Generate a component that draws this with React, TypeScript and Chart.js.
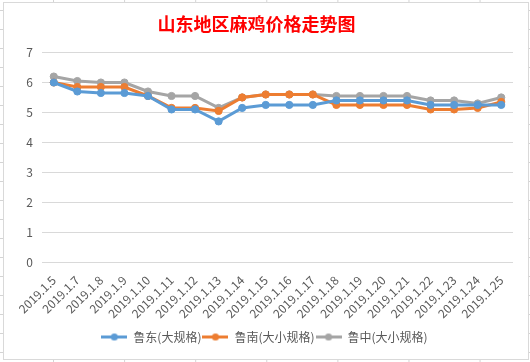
import React, { useEffect, useRef } from "react";
import { Chart, registerables } from "chart.js";

Chart.register(...registerables);

const chartTitle = "山东地区麻鸡价格走势图";
const categories = [
  "2019.1.5", "2019.1.7", "2019.1.8", "2019.1.9", "2019.1.10",
  "2019.1.11", "2019.1.12", "2019.1.13", "2019.1.14", "2019.1.15",
  "2019.1.16", "2019.1.17", "2019.1.18", "2019.1.19", "2019.1.20",
  "2019.1.21", "2019.1.22", "2019.1.23", "2019.1.24", "2019.1.25",
];
const seriesNames = ["鲁东(大规格)", "鲁南(大小规格)", "鲁中(大小规格)"];
const ludong = [6.0, 5.7, 5.65, 5.65, 5.55, 5.1, 5.1, 4.7, 5.15, 5.25, 5.25, 5.25, 5.4, 5.4, 5.4, 5.4, 5.25, 5.25, 5.25, 5.25];
const lunan = [6.0, 5.85, 5.85, 5.85, 5.55, 5.15, 5.15, 5.05, 5.5, 5.6, 5.6, 5.6, 5.25, 5.25, 5.25, 5.25, 5.1, 5.1, 5.15, 5.35];
const luzhong = [6.2, 6.05, 6.0, 6.0, 5.7, 5.55, 5.55, 5.15, 5.5, 5.6, 5.6, 5.6, 5.55, 5.55, 5.55, 5.55, 5.4, 5.4, 5.3, 5.5];
const yMin = 0;
const yMax = 7;
const yStep = 1;

const colors = ["#5B9BD5", "#ED7D31", "#A5A5A5"];
const FONT = '"Noto Sans CJK SC", "DejaVu Sans", sans-serif';

function makeMarker(color: string) {
  const c = document.createElement("canvas");
  c.width = 26;
  c.height = 9;
  const ctx = c.getContext("2d")!;
  ctx.strokeStyle = color;
  ctx.lineWidth = 3;
  ctx.beginPath();
  ctx.moveTo(0, 4.5);
  ctx.lineTo(26, 4.5);
  ctx.stroke();
  ctx.fillStyle = color;
  ctx.beginPath();
  ctx.arc(13, 4.5, 3.6, 0, Math.PI * 2);
  ctx.fill();
  return c;
}

const shiftLegend = {
  id: "shiftLegend",
  afterLayout(chart: any) {
    if (chart.legend) {
      chart.legend.left += 8;
      chart.legend.right += 8;
    }
  },
};

export default function App() {
  const ref = useRef<HTMLCanvasElement | null>(null);

  useEffect(() => {
    if (!ref.current) return;
    const markers = colors.map(makeMarker);
    const series = [ludong, lunan, luzhong];
    const chart = new Chart(ref.current, {
      type: "line",
      data: {
        labels: categories,
        datasets: series.map((d, i) => ({
          label: seriesNames[i],
          data: d,
          borderColor: colors[i],
          backgroundColor: colors[i],
          borderWidth: 3,
          pointRadius: 3.6,
          pointBorderWidth: 1,
          pointBackgroundColor: colors[i],
          pointBorderColor: colors[i],
          tension: 0,
          fill: false,
        })),
      },
      plugins: [shiftLegend],
      options: {
        responsive: false,
        animation: false,
        devicePixelRatio: 1,
        layout: { padding: { left: 0, right: 17, top: 0, bottom: 9 } },
        plugins: {
          title: {
            display: true,
            text: chartTitle,
            color: "#FF0000",
            font: { family: FONT, size: 18, weight: "bold" },
            padding: { top: 13, bottom: 18 },
          },
          legend: {
            position: "bottom",
            labels: {
              usePointStyle: true,
              pointStyleWidth: 26,
              boxHeight: 9,
              color: "#595959",
              font: { family: FONT, size: 12 },
              padding: 1,
              generateLabels: (ch: any) => {
                const items = Chart.defaults.plugins.legend.labels.generateLabels(ch);
                return items.map((it: any, i: number) => ({
                  ...it,
                  pointStyle: markers[i],
                  fontColor: "#595959",
                }));
              },
            },
          },
          tooltip: { enabled: false },
        },
        scales: {
          x: {
            offset: true,
            grid: { display: false },
            border: { display: false },
            ticks: {
              color: "#595959",
              font: { family: FONT, size: 12 },
              minRotation: 45,
              maxRotation: 45,
              autoSkip: false,
              padding: 3,
            },
            afterFit: (scale: any) => {
              scale.height = 68;
            },
          },
          y: {
            min: yMin,
            max: yMax,
            grid: { color: "#D9D9D9", drawTicks: false, lineWidth: 1 },
            border: { display: false },
            ticks: {
              stepSize: yStep,
              color: "#595959",
              font: { family: FONT, size: 12 },
              padding: 9,
              callback: (v: any) => String(v),
            },
            afterFit: (scale: any) => {
              scale.width = 42;
            },
          },
        },
      },
    });
    return () => chart.destroy();
  }, []);

  return (
    <div
      style={{
        position: "fixed",
        left: 0,
        top: 0,
        width: 530,
        height: 362,
        backgroundColor: "#FFFFFF",
        backgroundImage:
          "linear-gradient(#D4D4D4 1px, transparent 1px), linear-gradient(90deg, #D4D4D4 1px, transparent 1px)",
        backgroundSize: "71.1px 19px",
        backgroundPosition: "53px 10px",
        overflow: "hidden",
      }}
    >
      <div
        style={{
          position: "absolute",
          left: 3,
          top: 2,
          width: 526,
          height: 358,
          boxSizing: "border-box",
          border: "1px solid #D9D9D9",
          background: "#FFFFFF",
        }}
      />
      <canvas
        ref={ref}
        width={530}
        height={362}
        style={{ position: "absolute", left: 0, top: 0, width: 530, height: 362 }}
      />
    </div>
  );
}
